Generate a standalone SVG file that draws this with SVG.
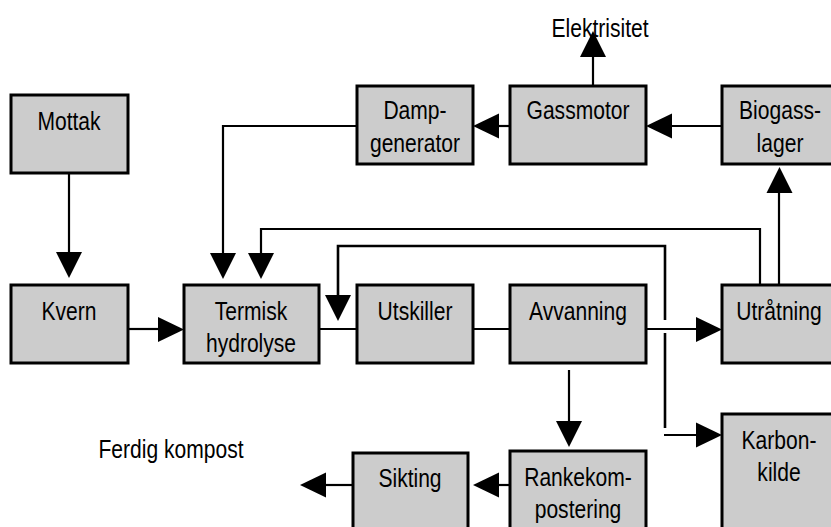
<svg xmlns="http://www.w3.org/2000/svg" width="831" height="527" viewBox="0 0 831 527">
<style>
.box{fill:#cccccc;stroke:#000;stroke-width:3}
.t{font-family:"Liberation Sans",Arial,sans-serif;font-size:26px;text-anchor:middle;fill:#000}
.c{fill:none;stroke:#000;stroke-width:2.2}
.ah{fill:#000}
</style>
<defs>
<polygon id="ad" points="-13,0 13,0 0,26"/>
<polygon id="au" points="-13,0 13,0 0,-26"/>
<polygon id="ar" points="0,-12.5 0,12.5 26,0"/>
<polygon id="al" points="0,-12.5 0,12.5 -26,0"/>
</defs>
<rect width="831" height="527" fill="#fff"/>
<g id="connectors">
<path class="c" d="M69,173 V253"/>
<use href="#ad" class="ah" x="69" y="252"/>
<path class="c" d="M128,329 H159"/>
<use href="#ar" class="ah" x="158" y="329.5"/>
<path class="c" d="M319,329 H357 M473,329 H510 M646,329 H697"/>
<use href="#ar" class="ah" x="696" y="329.5"/>
<path class="c" d="M357,126 H223 V254"/>
<use href="#ad" class="ah" x="223" y="253"/>
<path class="c" d="M760,285 V229 H261 V254"/>
<use href="#ad" class="ah" x="261" y="253"/>
<path class="c" d="M665,320 V246 H338 V296" style="stroke-width:2.6"/>
<use href="#ad" class="ah" x="338" y="295"/>
<path class="c" d="M665,333 V428" style="stroke-width:2.6"/>
<path class="c" d="M664,435 H697"/>
<use href="#ar" class="ah" x="696" y="435"/>
<path class="c" d="M569,370 V422"/>
<use href="#ad" class="ah" x="569" y="421"/>
<path class="c" d="M510,485 H498"/>
<use href="#al" class="ah" x="499" y="485"/>
<path class="c" d="M353,485 H325"/>
<use href="#al" class="ah" x="326" y="485"/>
<path class="c" d="M593,86 V56"/>
<use href="#au" class="ah" x="593" y="57"/>
<path class="c" d="M779,285 V192"/>
<use href="#au" class="ah" x="779.5" y="193"/>
<path class="c" d="M722,126 H671"/>
<use href="#al" class="ah" x="672" y="126"/>
<path class="c" d="M510,126 H498"/>
<use href="#al" class="ah" x="499" y="126"/>
</g>
<g id="mottak"><rect class="box" x="11" y="95" width="117" height="78"/><text class="t" transform="translate(69,130) scale(0.81,1)">Mottak</text></g>
<g id="dampgenerator"><rect class="box" x="357" y="86" width="116" height="78"/><text class="t" transform="translate(415,119) scale(0.81,1)">Damp-</text><text class="t" transform="translate(415,152) scale(0.81,1)">generator</text></g>
<g id="gassmotor"><rect class="box" x="510" y="86" width="136" height="78"/><text class="t" transform="translate(578,119) scale(0.81,1)">Gassmotor</text></g>
<g id="biogasslager"><rect class="box" x="722" y="86" width="116" height="78"/><text class="t" transform="translate(780,119) scale(0.81,1)">Biogass-</text><text class="t" transform="translate(780,152) scale(0.81,1)">lager</text></g>
<g id="kvern"><rect class="box" x="11" y="285" width="117" height="78"/><text class="t" transform="translate(69,320) scale(0.81,1)">Kvern</text></g>
<g id="termisk"><rect class="box" x="184" y="285" width="135" height="78"/><text class="t" transform="translate(251,320) scale(0.81,1)">Termisk</text><text class="t" transform="translate(251,352) scale(0.81,1)">hydrolyse</text></g>
<g id="utskiller"><rect class="box" x="357" y="285" width="116" height="78"/><text class="t" transform="translate(415,320) scale(0.81,1)">Utskiller</text></g>
<g id="avvanning"><rect class="box" x="510" y="285" width="136" height="78"/><text class="t" transform="translate(578,320) scale(0.81,1)">Avvanning</text></g>
<g id="utratning"><rect class="box" x="722" y="285" width="116" height="78"/><text class="t" transform="translate(779,320) scale(0.81,1)">Utråtning</text></g>
<g id="karbonkilde"><rect class="box" x="722" y="414" width="116" height="130"/><text class="t" transform="translate(779,449) scale(0.81,1)">Karbon-</text><text class="t" transform="translate(779,481) scale(0.81,1)">kilde</text></g>
<g id="rankekompostering"><rect class="box" x="510" y="451" width="136" height="90"/><text class="t" transform="translate(578,486) scale(0.81,1)">Rankekom-</text><text class="t" transform="translate(578,518) scale(0.81,1)">postering</text></g>
<g id="sikting"><rect class="box" x="353" y="453" width="115" height="90"/><text class="t" transform="translate(410,487) scale(0.81,1)">Sikting</text></g>
<g id="labels">
<text class="t" transform="translate(600,37) scale(0.81,1)">Elektrisitet</text>
<text class="t" transform="translate(171,458) scale(0.81,1)">Ferdig kompost</text>
</g>
</svg>
